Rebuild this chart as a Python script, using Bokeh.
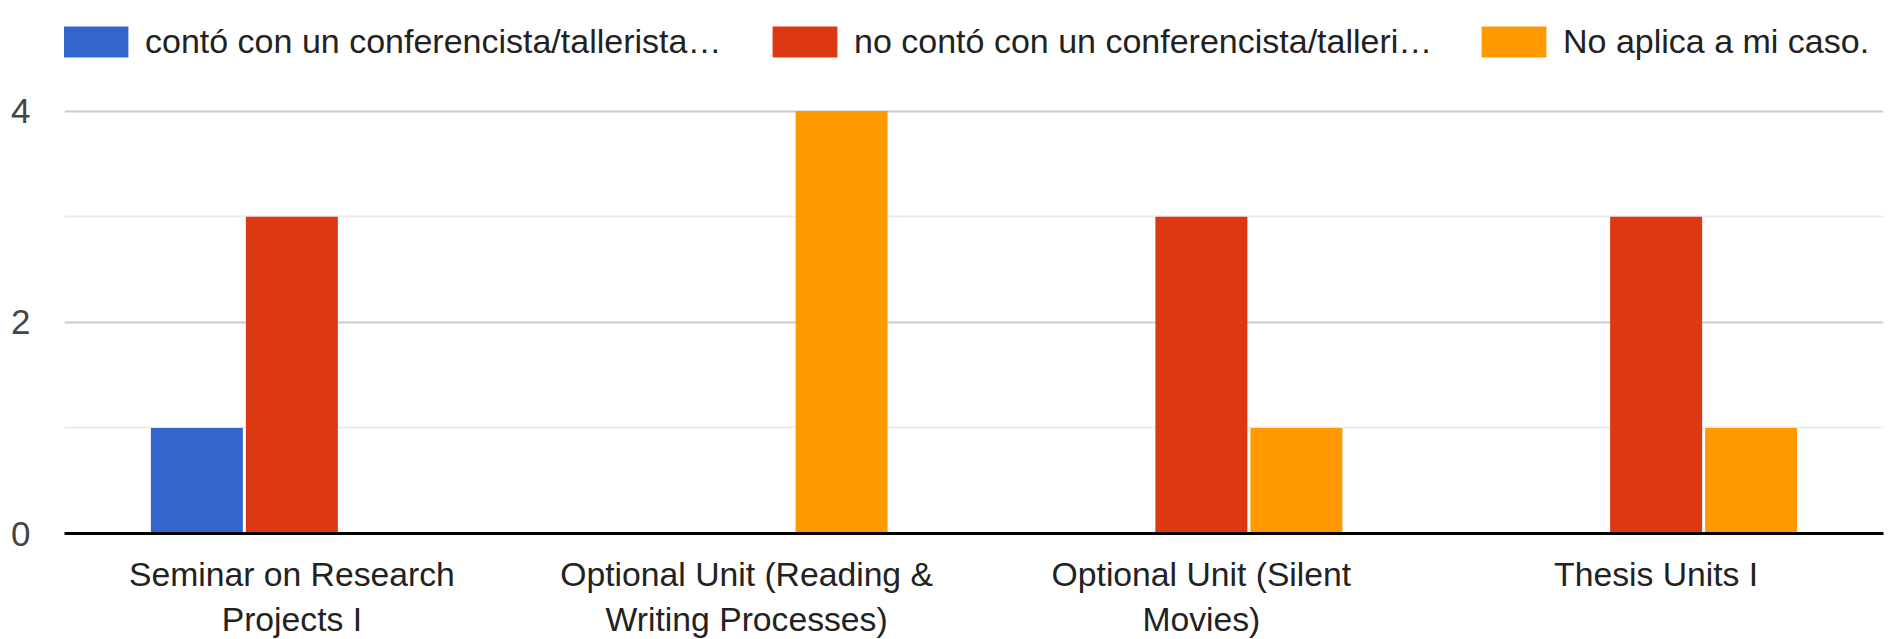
from bokeh.plotting import figure
from bokeh.models import FactorRange, Range1d, FixedTicker, Legend, LegendItem
from bokeh.transform import dodge
from bokeh.embed import file_html
from bokeh.resources import INLINE
from bokeh.models import ColumnDataSource

categories = [
    "Seminar on Research\nProjects I",
    "Optional Unit (Reading &\nWriting Processes)",
    "Optional Unit (Silent\nMovies)",
    "Thesis Units I",
]
series_names = [
    "contó con un conferencista/tallerista…",
    "no contó con un conferencista/talleri…",
    "No aplica a mi caso.",
]
conto = [1, 0, 0, 0]
no_conto = [3, 0, 3, 3]
no_aplica = [0, 4, 1, 1]
colors = ["#3366cc", "#dc3912", "#ff9900"]
y_ticks = [0, 2, 4]
y_minor = [1, 3, 5]

source = ColumnDataSource(dict(cat=categories, a=conto, b=no_conto, c=no_aplica))

p = figure(
    x_range=FactorRange(*categories, range_padding=0),
    y_range=Range1d(0, 5),
    frame_width=1819, frame_height=528,
    output_backend="svg", toolbar_location=None,
    min_border_left=64, min_border_right=1, min_border_top=5, min_border_bottom=0,
)
p.outline_line_color = None
p.background_fill_color = "white"

bw = 0.2023
off = 0.2089
renderers = []
for key, o, col in zip(["a", "b", "c"], [-off, 0, off], colors):
    r = p.vbar(x=dodge("cat", o, range=p.x_range), top=key, width=bw, bottom=0,
               source=source, fill_color=col, line_color=None)
    renderers.append(r)

# grids
p.xgrid.grid_line_color = None
p.yaxis.ticker = FixedTicker(ticks=y_ticks, minor_ticks=y_minor)
p.ygrid.grid_line_color = "#cccccc"
p.ygrid.grid_line_width = 2
p.ygrid.minor_grid_line_color = "#ebebeb"
p.ygrid.minor_grid_line_width = 2

# y axis
p.yaxis.axis_line_color = None
p.yaxis.major_tick_line_color = None
p.yaxis.minor_tick_line_color = None
p.yaxis.major_tick_out = 0
p.yaxis.minor_tick_out = 0
p.yaxis.major_label_standoff = 34
p.yaxis.major_label_text_font = "Liberation Sans"
p.yaxis.major_label_text_font_size = "35px"
p.yaxis.major_label_text_color = "#444444"

# x axis
p.xaxis.axis_line_color = "#000000"
p.xaxis.axis_line_width = 3
p.xaxis.major_tick_line_color = None
p.xaxis.minor_tick_line_color = None
p.xaxis.major_label_standoff = 15
p.xaxis.major_label_text_font = "Liberation Sans"
p.xaxis.major_label_text_font_size = "33.7px"
p.xaxis.major_label_text_line_height = 1.2
p.xaxis.major_label_text_color = "#222222"

# legends, one per item
legend_x = [-9, 700, 1409]
for name, r, lx in zip(series_names, renderers, legend_x):
    lg = Legend(items=[LegendItem(label=name, renderers=[r])],
                location=(lx, 472), orientation="horizontal",
                padding=0, margin=0, spacing=0,
                glyph_width=81, glyph_height=39, label_height=39,
                label_standoff=9,
                label_text_font="Liberation Sans", label_text_font_size="34px",
                label_text_color="#222222",
                border_line_color=None, background_fill_alpha=0)
    p.add_layout(lg, "center")

open("out.html", "w").write(file_html(p, INLINE))
